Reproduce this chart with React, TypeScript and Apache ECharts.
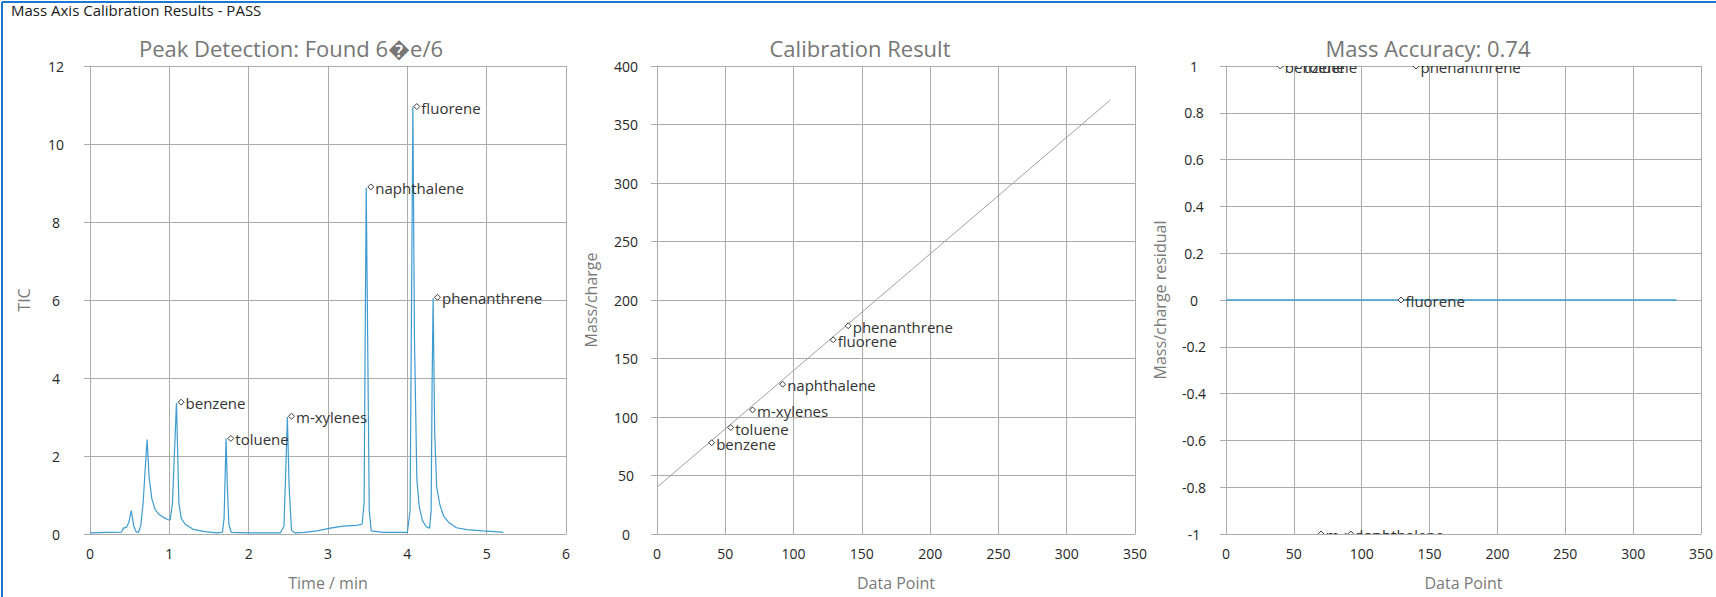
import React, { useEffect, useRef } from "react";
import * as echarts from "echarts";

const FONT = '"Open Sans", "Noto Sans", "DejaVu Sans", sans-serif';

// Total ion current trace: [retention time / min, TIC]
const ticTrace: [number, number][] = [
  [0.0, 0.03], [0.2, 0.04], [0.4, 0.05], [0.42, 0.15], [0.46, 0.17], [0.49, 0.3],
  [0.52, 0.6], [0.55, 0.22], [0.58, 0.06], [0.61, 0.04], [0.64, 0.22], [0.67, 0.8],
  [0.7, 1.8], [0.72, 2.42], [0.745, 1.45], [0.78, 0.9], [0.82, 0.63], [0.87, 0.5],
  [0.93, 0.42], [0.98, 0.37], [1.01, 0.36], [1.04, 0.8], [1.065, 2.1], [1.09, 3.36],
  [1.105, 2.1], [1.12, 0.8], [1.15, 0.4], [1.2, 0.25], [1.3, 0.12], [1.45, 0.06],
  [1.6, 0.03], [1.67, 0.05], [1.69, 0.4], [1.705, 1.6], [1.715, 2.45], [1.73, 1.3],
  [1.75, 0.25], [1.78, 0.04], [2.0, 0.03], [2.2, 0.03], [2.4, 0.03], [2.445, 0.2],
  [2.47, 1.8], [2.488, 3.0], [2.51, 1.2], [2.54, 0.1], [2.58, 0.03], [2.7, 0.04],
  [2.86, 0.08], [3.03, 0.15], [3.19, 0.2], [3.36, 0.22], [3.43, 0.25], [3.455, 0.8],
  [3.47, 5.5], [3.482, 8.88], [3.5, 5.0], [3.52, 0.6], [3.545, 0.08], [3.7, 0.04],
  [3.9, 0.04], [4.0, 0.04], [4.035, 0.6], [4.055, 6.5], [4.07, 10.96], [4.09, 5.0],
  [4.12, 1.4], [4.15, 0.7], [4.19, 0.35], [4.24, 0.18], [4.28, 0.15], [4.3, 0.6],
  [4.313, 4.0], [4.325, 6.05], [4.345, 2.6], [4.37, 1.2], [4.41, 0.75], [4.46, 0.45],
  [4.53, 0.28], [4.62, 0.16], [4.75, 0.11], [4.95, 0.08], [5.1, 0.06], [5.21, 0.04],
];

// Detected peaks
const peakNames = ["benzene", "toluene", "m-xylenes", "naphthalene", "fluorene", "phenanthrene"];
const peakTimes = [1.148, 1.775, 2.54, 3.54, 4.12, 4.38];
const peakTic = [3.38, 2.45, 3.02, 8.9, 10.96, 6.07];

// Calibration: data point index vs. known mass/charge
const peakDataPoint = [40, 54, 70, 92, 129, 140];
const peakMassCharge = [78, 91, 106, 128, 166, 178];
const calibrationFit: [number, number][] = [[0, 40], [332, 371]];

// Residuals after calibration (pinned to the axis range)
const peakResidual = [1, 1, -1, -1, 0, 1];
const residualBaseline: [number, number][] = [[0, 0], [332, 0]];

// Axis ranges
const timeAxis = { min: 0, max: 6, interval: 1 };
const ticAxis = { min: 0, max: 12, interval: 2 };
const pointAxis = { min: 0, max: 350, interval: 50 };
const massAxis = { min: 0, max: 400, interval: 50 };
const residualAxis = { min: -1, max: 1, interval: 0.2 };

const GRID_COLOR = "#ababab";
const TRACE_COLOR = "#3e9bcf";
const FRAME_COLOR = "#1b78d0";

const tickLabel = { color: "#262626", fontSize: 14, fontFamily: FONT };
const axisName = { color: "#7a7a7a", fontSize: 16, fontFamily: FONT, verticalAlign: "middle" };

function xAxis(gridIndex: number, range: object, name: string) {
  return {
    type: "value",
    gridIndex,
    ...range,
    name,
    nameLocation: "middle",
    nameGap: 49,
    nameTextStyle: { ...axisName },
    axisLine: { show: true, onZero: false, lineStyle: { color: GRID_COLOR, width: 1 } },
    axisTick: { show: false },
    splitLine: { show: true, lineStyle: { color: GRID_COLOR, width: 1 } },
    axisLabel: { ...tickLabel, margin: 12, showMinLabel: true, showMaxLabel: true },
  };
}

function yAxis(gridIndex: number, range: object, name: string, labelMargin: number) {
  return {
    type: "value",
    gridIndex,
    ...range,
    name,
    nameLocation: "middle",
    nameGap: 66,
    nameTextStyle: { ...axisName },
    axisLine: { show: true, onZero: false, lineStyle: { color: GRID_COLOR, width: 1 } },
    axisTick: { show: true, length: 6, lineStyle: { color: GRID_COLOR } },
    splitLine: { show: true, lineStyle: { color: GRID_COLOR, width: 1 } },
    axisLabel: { ...tickLabel, align: "center", margin: labelMargin, showMinLabel: true, showMaxLabel: true },
  };
}

// Hollow diamond with the peak name to its right
function labeledMarkers(axisIndex: number, xs: number[], ys: number[], clip: boolean) {
  return {
    type: "custom",
    xAxisIndex: axisIndex,
    yAxisIndex: axisIndex,
    clip,
    z: 5,
    encode: { x: 0, y: 1 },
    data: xs.map((x, i) => [x, ys[i]]),
    renderItem: (params: any, api: any) => {
      const p = api.coord([api.value(0), api.value(1)]);
      const cx = p[0];
      const cy = p[1];
      const r = 3;
      return {
        type: "group",
        children: [
          {
            type: "polygon",
            shape: { points: [[cx, cy - r], [cx + r, cy], [cx, cy + r], [cx - r, cy]] },
            style: { fill: "#fff", stroke: "#3a3a3a", lineWidth: 1 },
          },
          {
            type: "text",
            x: cx + 4.5,
            y: cy + 1,
            style: {
              text: peakNames[params.dataIndex],
              fill: "#333",
              fontSize: 15,
              fontFamily: FONT,
              align: "left",
              verticalAlign: "middle",
            },
          },
        ],
      };
    },
  };
}

function panelTitle(text: string, cx: number) {
  return {
    type: "text",
    x: cx,
    y: 48,
    style: { text, fill: "#767676", fontSize: 22, fontFamily: FONT, align: "center", verticalAlign: "middle" },
  };
}

export default function App() {
  const ref = useRef<HTMLDivElement>(null);

  useEffect(() => {
    if (!ref.current) return;
    const chart = echarts.init(ref.current, null, { renderer: "svg" });
    chart.setOption({
      animation: false,
      backgroundColor: "#fff",
      grid: [
        { left: 90, top: 66, width: 476, height: 468 },
        { left: 657, top: 66, width: 478, height: 468 },
        { left: 1226, top: 66, width: 478, height: 468 },
      ],
      xAxis: [
        xAxis(0, timeAxis, "Time / min"),
        xAxis(1, pointAxis, "Data Point"),
        xAxis(2, pointAxis, "Data Point"),
      ],
      yAxis: [
        yAxis(0, ticAxis, "TIC", 34),
        yAxis(1, massAxis, "Mass/charge", 31),
        yAxis(2, residualAxis, "Mass/charge residual", 32),
      ],
      graphic: [
        { type: "line", shape: { x1: 2, y1: 2, x2: 1716, y2: 2 }, style: { stroke: FRAME_COLOR, lineWidth: 2 } },
        { type: "line", shape: { x1: 2, y1: 2, x2: 2, y2: 597 }, style: { stroke: FRAME_COLOR, lineWidth: 2 } },
        {
          type: "text",
          x: 11,
          y: 10,
          style: {
            text: "Mass Axis Calibration Results - PASS",
            fill: "#1a1a1a",
            fontSize: 15,
            fontFamily: FONT,
            align: "left",
            verticalAlign: "middle",
          },
        },
        panelTitle("Peak Detection: Found 6\uFFFDe/6", 291),
        panelTitle("Calibration Result", 860),
        panelTitle("Mass Accuracy: 0.74", 1428),
      ],
      series: [
        {
          type: "line",
          xAxisIndex: 0,
          yAxisIndex: 0,
          data: ticTrace,
          showSymbol: false,
          lineStyle: { color: TRACE_COLOR, width: 1.2 },
        },
        labeledMarkers(0, peakTimes, peakTic, false),
        {
          type: "line",
          xAxisIndex: 1,
          yAxisIndex: 1,
          data: calibrationFit,
          showSymbol: false,
          lineStyle: { color: "#a0a0a0", width: 1 },
        },
        labeledMarkers(1, peakDataPoint, peakMassCharge, false),
        {
          type: "line",
          xAxisIndex: 2,
          yAxisIndex: 2,
          data: residualBaseline,
          showSymbol: false,
          lineStyle: { color: TRACE_COLOR, width: 1.5 },
        },
        labeledMarkers(2, peakDataPoint, peakResidual, true),
      ],
    });
    return () => chart.dispose();
  }, []);

  return (
    <div
      ref={ref}
      style={{ position: "absolute", left: 0, top: 0, width: 1716, height: 597, background: "#fff" }}
    />
  );
}
